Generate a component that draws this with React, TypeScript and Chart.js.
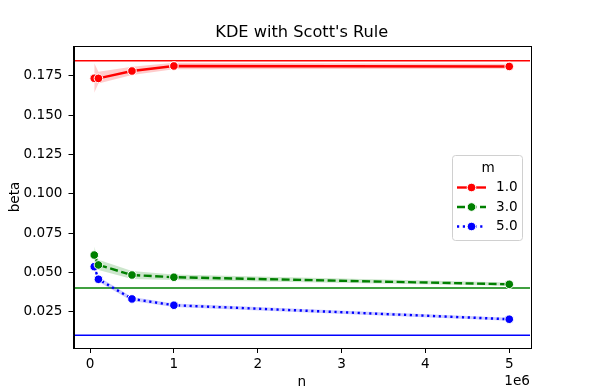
import React, { useEffect, useRef } from "react";
import Chart from "chart.js/auto";

const nValues = [50000, 100000, 500000, 1000000, 5000000];
const mLabels = ["1.0", "3.0", "5.0"];
const m1Mean = [0.1734, 0.1733, 0.178, 0.1812, 0.1809];
const m1Lower = [0.1642, 0.17, 0.1755, 0.1791, 0.1795];
const m1Upper = [0.1829, 0.1775, 0.1807, 0.1833, 0.1826];
const m3Mean = [0.061, 0.0547, 0.0483, 0.0469, 0.0424];
const m3Lower = [0.0565, 0.0515, 0.0458, 0.0452, 0.0414];
const m3Upper = [0.0663, 0.058, 0.0508, 0.0487, 0.0436];
const m5Mean = [0.0536, 0.0456, 0.0331, 0.0291, 0.0202];
const m5Lower = [0.0515, 0.044, 0.0318, 0.028, 0.0193];
const m5Upper = [0.056, 0.0472, 0.0344, 0.0302, 0.0211];
const refValues = [0.1845, 0.04, 0.01];
const xTicks = [0, 1000000, 2000000, 3000000, 4000000, 5000000];
const yTicks = [0.025, 0.05, 0.075, 0.1, 0.125, 0.15, 0.175];

const colors = ["#ff0000", "#008000", "#0000ff"];
const fills = ["rgba(255,0,0,0.2)", "rgba(0,128,0,0.2)", "rgba(0,0,255,0.2)"];
const LW = 2.4;
const dashes: number[][] = [[], [8, 3.5], [2.2, 3.6]];
const FONT = "DejaVu Sans";
const FS = 13.6;

export default function App() {
  const ref = useRef<HTMLCanvasElement | null>(null);
  useEffect(() => {
    const means = [m1Mean, m3Mean, m5Mean];
    const lows = [m1Lower, m3Lower, m5Lower];
    const ups = [m1Upper, m3Upper, m5Upper];
    const datasets: any[] = [];
    for (let i = 0; i < 3; i++) {
      datasets.push({
        label: "",
        data: nValues.map((x, j) => ({ x, y: ups[i][j] })),
        borderWidth: 0,
        pointRadius: 0,
        fill: false,
        order: 2,
        borderColor: "rgba(0,0,0,0)",
      });
      datasets.push({
        label: "",
        data: nValues.map((x, j) => ({ x, y: lows[i][j] })),
        borderWidth: 0,
        pointRadius: 0,
        fill: datasets.length - 1,
        backgroundColor: fills[i],
        order: 2,
        borderColor: "rgba(0,0,0,0)",
      });
    }
    for (let i = 0; i < 3; i++) {
      datasets.push({
        label: mLabels[i],
        data: nValues.map((x, j) => ({ x, y: means[i][j] })),
        borderColor: colors[i],
        backgroundColor: colors[i],
        borderWidth: LW,
        borderDash: dashes[i],
        borderCapStyle: "butt",
        pointRadius: 4.3,
        pointBorderColor: "#ffffff",
        pointBorderWidth: 1,
        pointBackgroundColor: colors[i],
        fill: false,
        order: 0,
      });
    }

    const custom = {
      id: "custom",
      beforeDatasetsDraw(chart: any) {
        const { ctx, chartArea, scales } = chart;
        ctx.save();
        ctx.beginPath();
        ctx.rect(chartArea.left, chartArea.top, chartArea.right - chartArea.left, chartArea.bottom - chartArea.top);
        ctx.clip();
        refValues.forEach((v, i) => {
          const y = scales.y.getPixelForValue(v);
          ctx.strokeStyle = colors[i];
          ctx.lineWidth = 1.5;
          ctx.beginPath();
          ctx.moveTo(chartArea.left, y);
          ctx.lineTo(chartArea.right, y);
          ctx.stroke();
        });
        ctx.restore();
      },
      afterDraw(chart: any) {
        const { ctx, chartArea } = chart;
        ctx.save();
        ctx.strokeStyle = "#000";
        ctx.lineWidth = 1;
        ctx.strokeRect(Math.round(chartArea.left) + 0.5, Math.round(chartArea.top) + 0.5,
          Math.round(chartArea.right - chartArea.left), Math.round(chartArea.bottom - chartArea.top));
        ctx.fillStyle = "#000";
        ctx.textAlign = "center";
        ctx.textBaseline = "middle";
        ctx.font = `16.2px "${FONT}"`;
        const cx = (chartArea.left + chartArea.right) / 2;
        ctx.fillText("KDE with Scott's Rule", cx, 33);
        ctx.font = `${FS}px "${FONT}"`;
        ctx.fillText("n", cx, 382);
        ctx.textAlign = "right";
        ctx.fillText("1e6", chartArea.right, 381);
        ctx.save();
        ctx.translate(15, (chartArea.top + chartArea.bottom) / 2);
        ctx.rotate(-Math.PI / 2);
        ctx.textAlign = "center";
        ctx.fillText("beta", 0, 0);
        ctx.restore();
        const lx = 452.5, ly = 155.5, lw = 70, lh = 85;
        ctx.fillStyle = "rgba(255,255,255,0.8)";
        ctx.strokeStyle = "#d0d0d0";
        ctx.lineWidth = 1;
        ctx.beginPath();
        (ctx as any).roundRect(lx, ly, lw, lh, 3);
        ctx.fill();
        ctx.stroke();
        ctx.fillStyle = "#000";
        ctx.textAlign = "center";
        ctx.textBaseline = "middle";
        ctx.fillText("m", 488, 168);
        for (let i = 0; i < 3; i++) {
          const yy = 187.5 + i * 19.5;
          ctx.strokeStyle = colors[i];
          ctx.lineWidth = LW;
          ctx.setLineDash(dashes[i]);
          ctx.lineCap = "butt";
          ctx.beginPath();
          ctx.moveTo(457, yy);
          ctx.lineTo(486, yy);
          ctx.stroke();
          ctx.setLineDash([]);
          ctx.fillStyle = colors[i];
          ctx.strokeStyle = "#fff";
          ctx.lineWidth = 1;
          ctx.beginPath();
          ctx.arc(471.5, yy, 4.3, 0, Math.PI * 2);
          ctx.fill();
          ctx.stroke();
          ctx.fillStyle = "#000";
          ctx.textAlign = "left";
          ctx.fillText(mLabels[i], 496, yy);
          ctx.textAlign = "center";
        }
        ctx.restore();
      },
    };

    const chart = new Chart(ref.current!, {
      type: "line",
      data: { datasets },
      options: {
        animation: false,
        responsive: false,
        devicePixelRatio: 1,
        layout: { padding: { left: 0, top: 46, right: 59, bottom: 0 } },
        plugins: { legend: { display: false }, tooltip: { enabled: false }, title: { display: false } },
        elements: { line: { tension: 0 } },
        scales: {
          x: {
            type: "linear",
            min: -197500,
            max: 5247500,
            afterFit: (s: any) => { s.height = 44; },
            afterBuildTicks: (s: any) => { s.ticks = xTicks.map((v) => ({ value: v })); },
            border: { display: true, color: "#000", width: 1 },
            grid: { drawOnChartArea: false, drawTicks: true, tickLength: 5, color: "#000", tickColor: "#000" },
            ticks: {
              color: "#000",
              padding: 3,
              maxRotation: 0,
              autoSkip: false,
              font: { family: FONT, size: FS },
              callback: (v: any) => String(Number(v) / 1000000),
            },
          },
          y: {
            type: "linear",
            min: 0.0019,
            max: 0.1939,
            afterFit: (s: any) => { s.width = 73.5; },
            afterBuildTicks: (s: any) => { s.ticks = yTicks.map((v) => ({ value: v })); },
            border: { display: true, color: "#000", width: 1 },
            grid: { drawOnChartArea: false, drawTicks: true, tickLength: 5, color: "#000", tickColor: "#000" },
            ticks: {
              color: "#000",
              padding: 6,
              autoSkip: false,
              font: { family: FONT, size: FS },
              callback: (v: any) => Number(v).toFixed(3),
            },
          },
        },
      },
      plugins: [custom],
    } as any);
    return () => chart.destroy();
  }, []);
  return (
    <canvas
      ref={ref}
      width={589}
      height={392}
      style={{ position: "absolute", left: 0, top: 0, width: 589, height: 392, background: "#fff" }}
    />
  );
}
